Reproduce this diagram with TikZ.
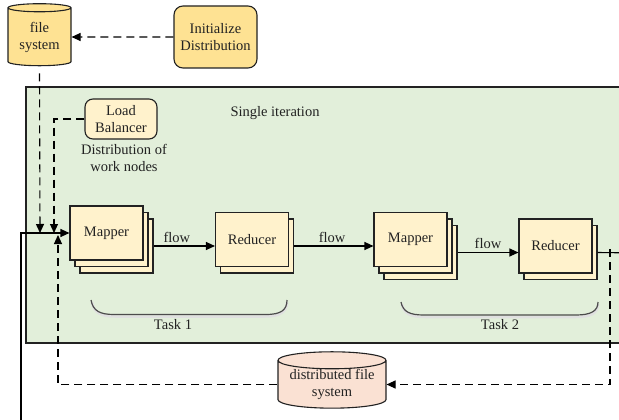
\documentclass[tikz,border=0pt]{standalone}
\usepackage{fontspec}
\setmainfont{Liberation Serif}
\usetikzlibrary{arrows.meta,shapes.geometric,shadows}

\definecolor{gold}{HTML}{FEE293}
\definecolor{cream}{HTML}{FFF2CC}
\definecolor{iterbg}{HTML}{E2EFDA}
\definecolor{peach}{HTML}{FAE1D3}
\definecolor{ink}{HTML}{222222}

\tikzset{
  txt/.style={font=\fontsize{14.5}{17}\selectfont, align=center, text=ink, inner sep=0pt},
  dbshape/.style={txt, cylinder, shape border rotate=90, aspect=0.2, draw=ink, line width=1.1pt},
  roundbox/.style={txt, rectangle, rounded corners=9pt, draw=ink, line width=1.1pt},
  stackbox/.style={txt, rectangle, draw=ink, fill=cream, line width=1.1pt,
    minimum width=73pt, minimum height=54pt},
  triplestack/.style={stackbox, double copy shadow={shadow xshift=5pt, shadow yshift=-6.5pt,
    fill=cream, draw=ink, line width=1.1pt}},
  doublestack/.style={stackbox, copy shadow={shadow xshift=5pt, shadow yshift=-6.5pt,
    fill=cream, draw=ink, line width=1.1pt}},
  link/.style={line width=1.1pt, draw=black},
  arr/.style={link, -{Triangle[length=9pt,width=8pt]}},
  dasharr/.style={arr, dash pattern=on 8pt off 5pt},
  taskbrace/.style={draw=black!70, line width=1.2pt},
  braceshade/.style={draw=black!12, line width=2.5pt},
}

\begin{document}
\begin{tikzpicture}[x=1pt,y=-1pt]
\useasboundingbox (0,0) rectangle (619,420);
\clip (0,0) rectangle (619,420);

% iteration panel (runs past the right edge)
\draw[fill=iterbg, draw=ink, line width=1.1pt] (26,87) rectangle (640,343);
\node[txt] (iterlabel) at (275,113) {Single iteration};

% storage and set-up
\node[dbshape, fill=gold, minimum width=63pt, minimum height=62pt] (fs) at (39.5,37) {file\\system};
\node[roundbox, fill=gold, minimum width=83pt, minimum height=62pt] (init) at (215.5,37) {Initialize\\Distribution};
\node[roundbox, fill=cream, rounded corners=8pt, minimum width=72pt, minimum height=40pt] (lb) at (121,119) {Load\\Balancer};
\node[txt] (lbnote) at (124,158) {Distribution of\\work nodes};
\node[dbshape, fill=peach, minimum width=108pt, minimum height=55pt] (dfs) at (332,384.5) {distributed file\\system};

% map / reduce stages
\node[triplestack] (m1) at (106.5,233) {Mapper};
\node[doublestack] (r1) at (252,239.5) {Reducer};
\node[triplestack] (m2) at (410.5,239.5) {Mapper};
\node[doublestack] (r2) at (555.5,246) {Reducer};

% task braces, each with a soft shade underneath
\draw[braceshade] (92,302) .. controls (94,313) and (101,316.5) .. (115,316.5) -- (265,316.5) .. controls (280,316.5) and (287,312) .. (287,302);
\draw[taskbrace] (91,300) .. controls (93,311) and (100,314.5) .. (114,314.5) -- (266,314.5) .. controls (281,314.5) and (287,310) .. (287,300);
\node[txt] (t1) at (173,325) {Task 1};
\draw[braceshade] (402,304) .. controls (404,314) and (411,317) .. (425,317) -- (576,317) .. controls (591,317) and (598,313) .. (598,304);
\draw[taskbrace] (401,302) .. controls (403,312) and (410,315) .. (424,315) -- (576,315) .. controls (591,315) and (598,311) .. (598,302);
\node[txt] (t2) at (500,325) {Task 2};

% junction points in front of the first mapper
\coordinate (inA) at (40,233);
\coordinate (inB) at (54,233);
\coordinate (inC) at (58,235);
\coordinate (loopin) at (21,430);
\coordinate (rout) at (640,253);
\coordinate (drop) at (610,253);

% connectors
\draw[dasharr] (init.west) -- (fs.east);
\draw[dasharr] ([yshift=-7pt]fs.south) -- (inA);
\draw[dasharr] (lb.west) -| (inB);
\draw[arr] (loopin) |- (m1.west);
\draw[dasharr] (dfs.west) -| (inC);

\draw[arr] ([xshift=10pt,yshift=-13pt]m1.east) coordinate (f1) -- node[txt, pos=0.38, above=3pt] {flow} (f1 -| r1.west);
\draw[arr] ([xshift=5pt,yshift=-6.5pt]r1.east) coordinate (f2) -- node[txt, pos=0.48, above=3pt] {flow} (f2 -| m2.west);
\draw[arr] ([xshift=10pt,yshift=-13pt]m2.east) coordinate (f3) -- node[txt, midway, above=3pt] {flow} (f3 -| r2.west);
\draw[link] ([xshift=5pt,yshift=-6.5pt]r2.east) -- (rout);
\draw[dasharr] ([yshift=4pt]drop) |- (dfs.east);
\end{tikzpicture}
\end{document}
